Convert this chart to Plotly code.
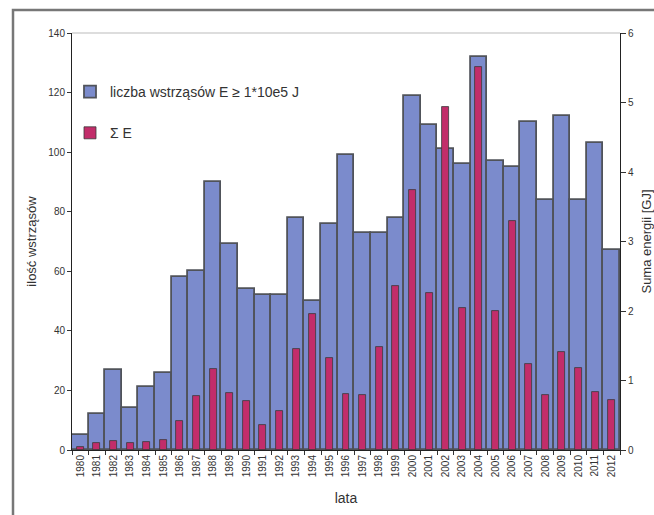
import plotly.graph_objects as go

# Yearly data
years = [str(y) for y in range(1980, 2013)]
tremor_count = [5, 12, 27, 14, 21, 26, 58, 60, 90, 69, 54, 52, 52, 78, 50, 76,
                99, 73, 73, 78, 119, 109, 101, 96, 132, 97, 95, 110, 84, 112, 84, 103, 67]
energy_sum = [0.04, 0.10, 0.13, 0.10, 0.11, 0.15, 0.42, 0.77, 1.17, 0.82, 0.71, 0.36,
              0.56, 1.46, 1.95, 1.33, 0.80, 0.79, 1.48, 2.36, 3.74, 2.26, 4.94, 2.04,
              5.51, 2.00, 3.30, 1.24, 0.79, 1.41, 1.18, 0.84, 0.72]

left_ticks = [0, 20, 40, 60, 80, 100, 120, 140]
right_ticks = [0, 1, 2, 3, 4, 5, 6]

W, H = 654, 515
ML, MR, MT, MB = 72, 34, 33, 65
pw, ph = W - ML - MR, H - MT - MB

def px_x(p):
    return (p - ML) / pw

def px_y(p):
    return (H - MB - p) / ph

FONT = "Liberation Sans, Arial, sans-serif"
TXT = "#333333"

fig = go.Figure()
fig.add_trace(go.Bar(
    x=years, y=tremor_count, name="liczba wstrząsów E ≥ 1*10e5 J",
    marker=dict(color="#7b8bcc", line=dict(color="#50535a", width=1.8)),
    width=1.0, legendgroup="a", yaxis="y",
))
fig.add_trace(go.Bar(
    x=years, y=energy_sum, name="Σ E",
    marker=dict(color="#c22d6a", line=dict(color="#3a3a3a", width=0.8)),
    width=0.42, legendgroup="b", yaxis="y2",
))

fig.update_layout(
    width=W, height=H,
    margin=dict(l=ML, r=MR, t=MT, b=MB, autoexpand=False),
    paper_bgcolor="white", plot_bgcolor="white",
    barmode="overlay", bargap=0,
    font=dict(family=FONT, color=TXT, size=10),
    showlegend=True,
    legend=dict(
        x=px_x(70), y=px_y(76), xanchor="left", yanchor="top",
        bgcolor="rgba(0,0,0,0)", font=dict(size=14, color=TXT),
        tracegroupgap=20, itemwidth=30,
    ),
    xaxis=dict(
        type="category", tickangle=-90, tickson="boundaries",
        ticks="outside", ticklen=4, tickcolor=TXT,
        showline=True, linecolor="#222222", linewidth=1,
        tickfont=dict(size=10, color=TXT), automargin=False,
        title=dict(text="lata", font=dict(size=14, color=TXT), standoff=16),
        showgrid=False, zeroline=False,
    ),
    yaxis=dict(
        range=[0, 140], tickvals=left_ticks, automargin=False,
        ticks="outside", ticklen=4, tickcolor=TXT,
        showline=True, linecolor="#222222", linewidth=1,
        showgrid=False, zeroline=False,
        tickfont=dict(size=10, color=TXT),
        title=dict(text="ilość wstrząsów", font=dict(size=13, color=TXT), standoff=8),
    ),
    yaxis2=dict(
        range=[0, 6], tickvals=right_ticks, overlaying="y", side="right",
        ticks="outside", ticklen=5, tickcolor=TXT, automargin=False,
        showline=True, linecolor="#222222", linewidth=1,
        showgrid=False, zeroline=False,
        tickfont=dict(size=10, color=TXT),
        title=dict(text="Suma energii [GJ]", font=dict(size=13, color=TXT), standoff=17),
    ),
    shapes=[
        # light border along the top of the plot area
        dict(type="line", xref="paper", yref="paper", x0=0, x1=1, y0=1, y1=1,
             line=dict(color="#bbbbbb", width=1)),
        # outer chart frame
        dict(type="rect", xref="paper", yref="paper",
             x0=px_x(13), x1=px_x(W + 10), y0=px_y(H + 10), y1=px_y(10),
             line=dict(color="#777777", width=2.5), layer="below"),
    ],
)

fig.write_html("out.html")
